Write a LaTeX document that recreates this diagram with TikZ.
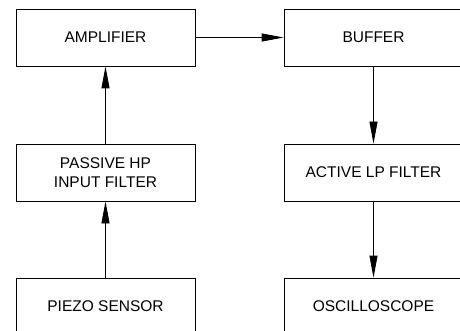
\documentclass[tikz,border=0pt]{standalone}
\usepackage{fontspec}
\setmainfont{Liberation Sans}
\usetikzlibrary{arrows.meta}
\begin{document}
\begin{tikzpicture}[x=1pt, y=-1pt,
    block/.style={draw, line width=0.8pt, minimum width=179pt, minimum height=57pt,
        inner sep=0pt, align=center, font=\fontsize{15.5}{19}\selectfont},
    flow/.style={line width=0.8pt, -{Triangle[length=22pt, width=8pt]}}]

    \useasboundingbox (0,0) rectangle (460,331);

    % Left column
    \node[block] (amplifier) at (105.5,37.5)  {AMPLIFIER};
    \node[block] (passive)   at (105.5,172.5) {PASSIVE HP\\INPUT FILTER};
    \node[block] (piezo)     at (105.5,306.5) {PIEZO SENSOR};
    % Right column
    \node[block] (buffer)    at (373.5,37.5)  {BUFFER};
    \node[block] (active)    at (373.5,172.5) {ACTIVE LP FILTER};
    \node[block] (scope)     at (373.5,306.5) {OSCILLOSCOPE};

    % Signal path
    \draw[flow] (piezo) -- (passive);
    \draw[flow] (passive) -- (amplifier);
    \draw[flow] (amplifier) -- (buffer);
    \draw[flow] (buffer) -- (active);
    \draw[flow] (active) -- (scope);

\end{tikzpicture}
\end{document}
